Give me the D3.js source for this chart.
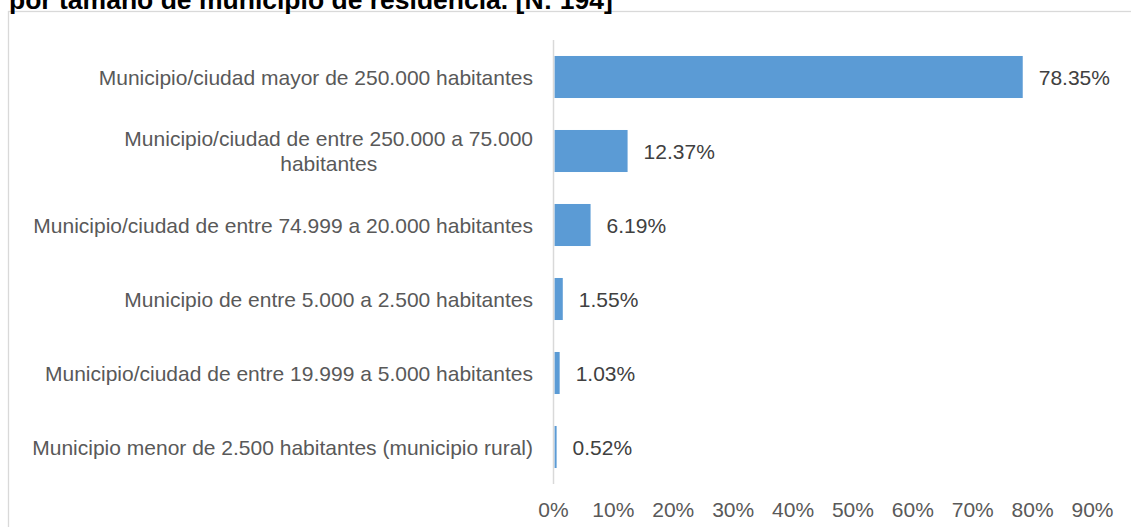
<!DOCTYPE html>
<html>
<head>
<meta charset="utf-8">
<script src="https://cdn.jsdelivr.net/npm/d3@7"></script>
<style>
  html, body { margin: 0; padding: 0; background: #fff; }
  svg { display: block; font-family: "Liberation Sans", Arial, sans-serif; }
</style>
</head>
<body>
<svg id="chart" width="1131" height="527"></svg>
<script>
const titleText = "por tamaño de municipio de residencia. [N: 194]";
const categories = [
  "Municipio/ciudad mayor de 250.000 habitantes",
  "Municipio/ciudad de entre 250.000 a 75.000\nhabitantes",
  "Municipio/ciudad de entre 74.999 a 20.000 habitantes",
  "Municipio de entre 5.000 a 2.500 habitantes",
  "Municipio/ciudad de entre 19.999 a 5.000 habitantes",
  "Municipio menor de 2.500 habitantes (municipio rural)"
];
const values = [78.35, 12.37, 6.19, 1.55, 1.03, 0.52];
const tickValues = [0, 10, 20, 30, 40, 50, 60, 70, 80, 90];

const svg = d3.select("#chart");

// chart border
svg.append("rect")
  .attr("x", 8.5).attr("y", 11.5)
  .attr("width", 1200).attr("height", 600)
  .attr("fill", "none").attr("stroke", "#d9d9d9").attr("stroke-width", 1.3);

// title (partially cut off at the top, as in the reference)
svg.append("text")
  .attr("x", 9).attr("y", 8.5)
  .attr("font-size", 26.5).attr("font-weight", "bold").attr("fill", "#000")
  .text(titleText);

const x = d3.scaleLinear().domain([0, 90]).range([553, 1092]);
const y = d3.scaleBand().domain(categories).range([40, 484])
  .paddingInner(0.432).paddingOuter(0.216);

// bars
svg.append("g").selectAll("rect")
  .data(values)
  .join("rect")
  .attr("x", x(0) + 1.5)
  .attr("y", (d, i) => y(categories[i]))
  .attr("width", d => x(d) - x(0) - 1)
  .attr("height", y.bandwidth())
  .attr("fill", "#5B9BD5");

// vertical axis line
svg.append("line")
  .attr("x1", x(0) + 0.5).attr("x2", x(0) + 0.5)
  .attr("y1", 40).attr("y2", 484)
  .attr("stroke", "#d9d9d9").attr("stroke-width", 1.5);

// x axis tick labels
const xAxis = d3.axisBottom(x).tickValues(tickValues).tickSize(0).tickPadding(0)
  .tickFormat(d => d + "%");
const gx = svg.append("g").attr("transform", "translate(0,502)").call(xAxis);
gx.select(".domain").remove();
gx.selectAll("text")
  .attr("font-size", 21).attr("fill", "#595959")
  .attr("font-family", "Liberation Sans, Arial, sans-serif")
  .attr("dy", "0.72em").attr("y", 0);

// value labels
svg.append("g").selectAll("text")
  .data(values)
  .join("text")
  .attr("x", d => x(d) + 16.5)
  .attr("y", (d, i) => y(categories[i]) + y.bandwidth() / 2)
  .attr("dy", "0.36em")
  .attr("font-size", 21).attr("fill", "#404040")
  .text(d => d.toFixed(2) + "%");

// category labels
const labelRight = 533;
const lineH = 24.5;
categories.forEach((c, i) => {
  const lines = c.split("\n");
  const cy = y(c) + y.bandwidth() / 2;
  const g = svg.append("g");
  const texts = lines.map((ln, j) => g.append("text")
    .attr("font-size", 21).attr("fill", "#595959")
    .attr("y", cy + (j - (lines.length - 1) / 2) * lineH)
    .attr("dy", "0.36em")
    .text(ln));
  const widths = texts.map(t => t.node().getComputedTextLength());
  const maxW = d3.max(widths);
  const center = labelRight - maxW / 2;
  texts.forEach((t, j) => t.attr("x", center).attr("text-anchor", "middle"));
});
</script>
</body>
</html>
